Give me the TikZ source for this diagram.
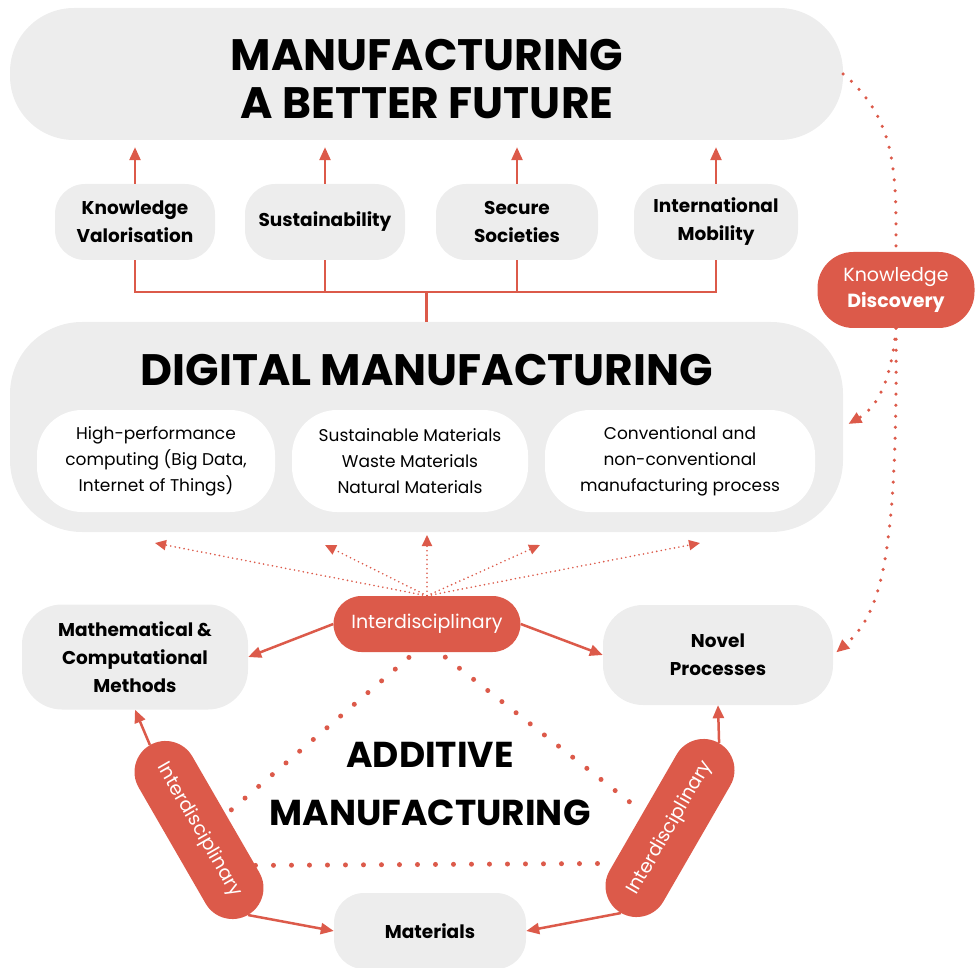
\documentclass[tikz,border=0pt]{standalone}
\usepackage{fontspec}
\setmainfont{Poppins}
\usetikzlibrary{calc,
	positioning,
	arrows.meta,
	shapes}
\definecolor{accent}{HTML}{DC5A4A}
\definecolor{pale}{HTML}{EDEDED}
\tikzstyle{pill}=[fill=pale, align=center, inner sep=0]
\tikzstyle{goal}=[pill, rounded corners=30pt, minimum width=160pt, minimum height=76pt,
		font=\bfseries\fontsize{18.5}{28}\selectfont]
\tikzstyle{cell}=[fill=white, rounded corners=45pt, minimum height=102pt, align=center,
		inner sep=0, font=\fontsize{17}{26}\selectfont]
\tikzstyle{hot}=[fill=accent, text=white, rounded corners=28pt, minimum height=56pt,
		align=center, inner sep=0, font=\fontsize{19}{26}\selectfont]
\tikzstyle{wire}=[draw=accent, line width=2.5pt]
\tikzstyle{arr}=[wire, -{Triangle[length=13pt,width=11pt]}]
\tikzstyle{dots}=[draw=accent, line width=3.5pt, line cap=round, dash pattern=on 0pt off 11pt]
\tikzstyle{bigdots}=[draw=accent, line width=5pt, line cap=round, dash pattern=on 0pt off 18pt]
\tikzstyle{fan}=[draw=accent, line width=1.8pt, line cap=round, dash pattern=on 0pt off 4.5pt,
		-{Triangle[length=11pt,width=10pt]}]

\begin{document}
\begin{tikzpicture}[x=1pt, y=-1pt]
        \useasboundingbox (0,0) rectangle (975,968);
        % top level
        \node[pill, rounded corners=64pt, minimum width=833pt, minimum height=132pt] (mbf) at (426.5,74) {};
        \node[font=\bfseries\fontsize{44}{48}\selectfont, align=center] (mbft) at (427,79) {MANUFACTURING\\A BETTER FUTURE};
        \node[goal] (kv) at (135,222) {Knowledge\\Valorisation};
        \node[goal] (sus) at (325,222) {Sustainability};
        \node[goal, minimum width=162pt] (sec) at (517,222) {Secure\\Societies};
        \node[goal, minimum width=164pt] (im) at (716,222) {International\\Mobility};
        % digital manufacturing
        \node[pill, rounded corners=72pt, minimum width=833pt, minimum height=210pt] (dm) at (426.5,427) {};
        \node[font=\bfseries\fontsize{44}{48}\selectfont] (dmt) at (427,370) {DIGITAL MANUFACTURING};
        \node[cell, minimum width=238pt] (hpc) at (156,461) {High-performance\\computing (Big Data,\\Internet of Things)};
        \node[cell, minimum width=236pt] (smat) at (410,461) {Sustainable Materials\\Waste Materials\\Natural Materials};
        \node[cell, minimum width=270pt] (proc) at (680,461) {Conventional and\\non-conventional\\manufacturing process};
        \node[hot, minimum width=157pt, minimum height=76pt, rounded corners=36pt] (kd) at (896,290) {Knowledge\\\textbf{Discovery}};
        % additive manufacturing
        \node[hot, minimum width=187pt] (inter) at (427,624) {Interdisciplinary};
        \node[goal, minimum width=226pt, minimum height=105pt, rounded corners=40pt] (mc) at (135,657) {Mathematical \&\\Computational\\Methods};
        \node[goal, minimum width=230pt, minimum height=100pt, rounded corners=40pt] (np) at (718,655) {Novel\\Processes};
        \node[goal, minimum width=192pt] (mat) at (430,931) {Materials};
        \node[font=\bfseries\fontsize{36}{58}\selectfont, align=center] (am) at (430,784) {ADDITIVE\\MANUFACTURING};
        \node[hot, minimum width=196pt, minimum height=62pt, rounded corners=31pt, rotate=-60] (il) at (199,830) {Interdisciplinary};
        \node[hot, minimum width=196pt, minimum height=62pt, rounded corners=31pt, rotate=60] (ir) at (670,828) {Interdisciplinary};

        % goals feed the top
        \foreach \g in {kv,sus,sec,im}
            \draw[arr, shorten >=7pt] (\g.north) -- (\g.north |- mbf.south);
        \coordinate (hub) at (dm.north |- 0,292);
        \draw[wire] (kv.south) |- (hub) -| (im.south);
        \draw[wire] (sus.south) -- (sus.south |- hub);
        \draw[wire] (sec.south) -- (sec.south |- hub);
        \draw[wire] (hub) -- (dm.north);

        % knowledge discovery loop
        \draw[dots] (mbf.east) to[out=-40, in=90] (kd.north);
        \draw[dots, -{Triangle[length=13pt,width=11pt]}, shorten >=6pt] (kd.south) to[out=-95, in=30] (dm.east);
        \draw[dots, -{Triangle[length=13pt,width=11pt]}, shorten >=4pt] (kd.south) .. controls (898,560) and (880,615) .. (np.east);

        % fan towards digital manufacturing
        \foreach \x/\y [count=\i] in {155/543, 325/545, 427/535, 540/545, 700/543} {
            \coordinate (fan\i) at (\x,\y);
            \draw[fan] (inter.north) -- (fan\i);
        }

        % cycle
        \draw[arr] (inter.west) -- (mc.east);
        \draw[arr] (inter.east) -- (np.west);
        \draw[arr] (il.west) -- (mc.south);
        \draw[arr] (il.east) -- (mat.west);
        \draw[arr] (ir.east) -- (np.south);
        \draw[arr] (ir.west) -- (mat.east);
        \draw[bigdots, shorten <=8pt] ([xshift=-12pt]inter.south) -- (il.north);
        \draw[bigdots, shorten <=8pt] ([xshift=12pt]inter.south) -- (ir.north);
        \draw[bigdots] ($(il.north)!0.6!(il.north east)$) -- ($(ir.north)!0.6!(ir.north west)$);
    \end{tikzpicture}
\end{document}
